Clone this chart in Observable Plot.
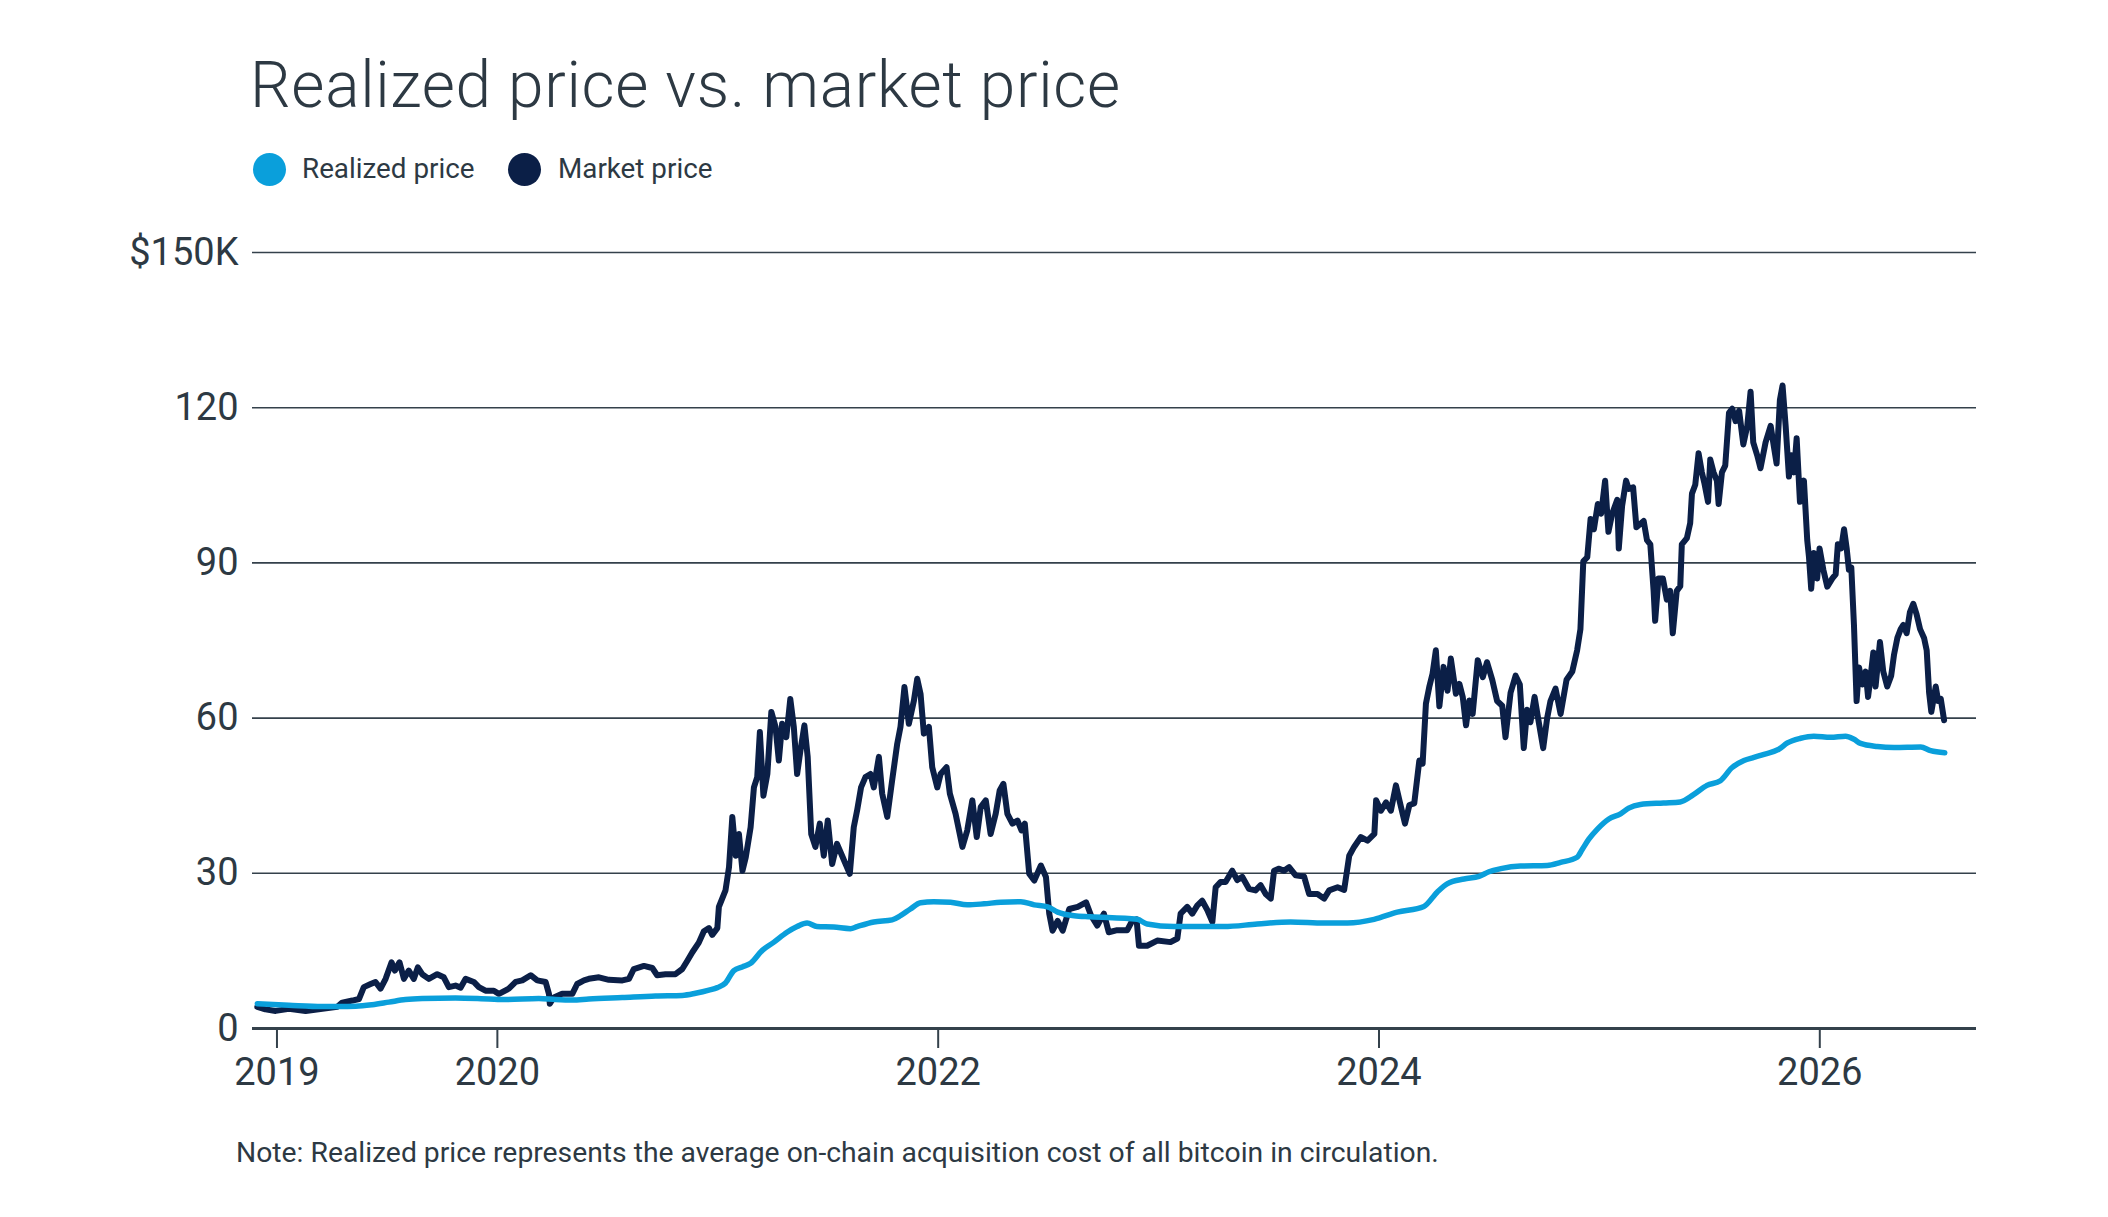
<!DOCTYPE html>
<html>
<head>
<meta charset="utf-8">
<script src="https://cdn.jsdelivr.net/npm/d3@7"></script>
<script src="https://cdn.jsdelivr.net/npm/@observablehq/plot@0.6"></script>
<style>
  html, body { margin: 0; padding: 0; background: #ffffff; }
  body { width: 2108px; height: 1217px; position: relative; overflow: hidden; font-family: "Roboto", "Open Sans", sans-serif; color: #2d3943; }
  .abs { position: absolute; white-space: nowrap; line-height: 1; }
  #title { left: 250px; top: 54px; font-size: 64px; font-weight: 300; letter-spacing: 0.7px; }
  .lg-dot { position: absolute; width: 33px; height: 33px; border-radius: 50%; }
  .lg-txt { font-size: 27.8px; font-weight: 400; }
  #note { left: 236px; top: 1139px; font-size: 28.3px; font-weight: 400; }
  #chart { position: absolute; left: 0; top: 200px; }
</style>
</head>
<body>
<div id="title" class="abs"></div>
<div id="legend"></div>
<div id="chart"></div>
<div id="note" class="abs"></div>
<script>
// ---- Text ----
const titleText = "Realized price vs. market price";
const noteText = "Note: Realized price represents the average on-chain acquisition cost of all bitcoin in circulation.";
const seriesNames = ["Realized price", "Market price"];
const seriesColors = ["#0a9fdb", "#0b1f47"];

// ---- Axis ticks ----
const xTicks = [2019, 2020, 2022, 2024, 2026];
const yTicks = [0, 30, 60, 90, 120, 150];
const yTickLabels = ["0", "30", "60", "90", "120", "$150K"];

// ---- Market price (decimal year, $K) ----
const marketYears = [
2018.911,2018.948,2018.994,2019.054,2019.130,2019.206,2019.274,2019.296,2019.342,2019.372,
2019.394,2019.425,2019.447,2019.470,2019.493,2019.520,2019.535,2019.556,2019.576,2019.598,
2019.621,2019.639,2019.659,2019.689,2019.727,2019.757,2019.780,2019.810,2019.833,2019.856,
2019.893,2019.916,2019.946,2019.984,2020.007,2020.052,2020.083,2020.113,2020.151,2020.181,
2020.219,2020.234,2020.238,2020.256,2020.294,2020.340,2020.362,2020.393,2020.415,2020.461,
2020.506,2020.567,2020.597,2020.619,2020.665,2020.703,2020.725,2020.763,2020.808,2020.839,
2020.862,2020.884,2020.914,2020.937,2020.960,2020.975,2020.998,2021.005,2021.035,2021.051,
2021.066,2021.082,2021.096,2021.112,2021.127,2021.149,2021.164,2021.179,2021.191,2021.207,
2021.225,2021.243,2021.262,2021.277,2021.292,2021.311,2021.329,2021.345,2021.360,2021.375,
2021.393,2021.408,2021.424,2021.443,2021.463,2021.481,2021.499,2021.519,2021.541,2021.564,
2021.599,2021.617,2021.632,2021.650,2021.670,2021.693,2021.708,2021.731,2021.746,2021.769,
2021.791,2021.814,2021.829,2021.847,2021.867,2021.890,2021.905,2021.920,2021.935,2021.958,
2021.973,2021.996,2022.011,2022.038,2022.053,2022.079,2022.110,2022.132,2022.155,2022.175,
2022.193,2022.216,2022.238,2022.261,2022.279,2022.296,2022.314,2022.337,2022.360,2022.378,
2022.393,2022.413,2022.436,2022.466,2022.489,2022.504,2022.519,2022.542,2022.565,2022.595,
2022.633,2022.671,2022.694,2022.722,2022.752,2022.774,2022.812,2022.858,2022.880,2022.900,
2022.911,2022.948,2022.994,2023.054,2023.085,2023.100,2023.130,2023.153,2023.176,2023.198,
2023.221,2023.244,2023.259,2023.281,2023.304,2023.334,2023.357,2023.380,2023.410,2023.440,
2023.463,2023.486,2023.509,2023.524,2023.547,2023.569,2023.592,2023.622,2023.660,2023.683,
2023.721,2023.751,2023.774,2023.812,2023.842,2023.865,2023.887,2023.918,2023.948,2023.979,
2023.987,2024.009,2024.032,2024.054,2024.077,2024.100,2024.118,2024.138,2024.160,2024.183,
2024.198,2024.213,2024.228,2024.243,2024.258,2024.274,2024.293,2024.311,2024.326,2024.349,
2024.365,2024.380,2024.395,2024.410,2024.425,2024.448,2024.471,2024.490,2024.514,2024.536,
2024.559,2024.574,2024.597,2024.620,2024.639,2024.657,2024.672,2024.687,2024.706,2024.725,
2024.745,2024.763,2024.778,2024.801,2024.824,2024.851,2024.877,2024.899,2024.914,2024.927,
2024.945,2024.960,2024.975,2024.993,2025.008,2025.026,2025.041,2025.058,2025.081,2025.088,
2025.103,2025.121,2025.133,2025.153,2025.168,2025.201,2025.216,2025.231,2025.246,2025.253,
2025.268,2025.288,2025.306,2025.321,2025.333,2025.351,2025.367,2025.374,2025.397,2025.412,
2025.420,2025.435,2025.450,2025.465,2025.476,2025.493,2025.503,2025.518,2025.533,2025.541,
2025.556,2025.571,2025.588,2025.603,2025.618,2025.634,2025.653,2025.671,2025.686,2025.698,
2025.716,2025.731,2025.754,2025.777,2025.792,2025.804,2025.819,2025.831,2025.845,2025.860,
2025.872,2025.883,2025.895,2025.910,2025.928,2025.943,2025.951,2025.961,2025.973,2025.988,
2025.999,2026.016,2026.034,2026.057,2026.072,2026.082,2026.097,2026.110,2026.122,2026.132,
2026.143,2026.155,2026.167,2026.178,2026.193,2026.208,2026.219,2026.231,2026.243,2026.253,
2026.273,2026.288,2026.306,2026.324,2026.337,2026.352,2026.367,2026.379,2026.394,2026.409,
2026.424,2026.439,2026.455,2026.473,2026.485,2026.496,2026.506,2026.526,2026.537,2026.549,
2026.564
];
const marketValues = [
4.2,3.7,3.4,3.8,3.4,3.8,4.2,5.0,5.4,5.7,
8.0,8.6,9.0,7.7,9.6,12.8,11.2,12.8,9.6,11.2,
9.6,11.8,10.5,9.6,10.5,9.9,8.0,8.3,7.9,9.6,
9.0,8.0,7.3,7.3,6.7,7.7,9.0,9.3,10.3,9.3,
9.0,6.7,4.8,6.0,6.7,6.7,8.6,9.3,9.6,9.9,
9.4,9.3,9.6,11.5,12.1,11.7,10.3,10.5,10.5,11.5,
13.1,14.7,16.6,18.8,19.4,18.1,19.4,23.5,26.7,31.2,
40.9,33.4,37.6,30.5,33.1,38.9,46.6,48.6,57.3,45.0,
49.2,61.2,58.3,51.8,58.9,56.3,63.7,58.3,49.2,53.7,
58.6,52.5,37.6,35.1,39.6,33.4,40.2,31.8,35.7,33.4,
29.9,38.9,42.1,46.6,48.6,49.2,46.6,52.5,45.4,40.9,
47.9,55.0,58.3,66.0,58.9,63.4,67.6,64.7,57.0,58.3,
50.5,46.6,49.2,50.5,45.4,41.5,35.1,38.3,44.1,37.0,
42.8,44.1,37.6,41.5,46.0,47.3,41.5,39.6,40.2,38.3,
39.6,29.9,28.6,31.5,29.3,22.2,18.9,20.8,18.9,23.1,
23.5,24.4,21.8,19.9,22.2,18.6,19.0,19.0,20.8,21.1,
16.0,16.0,17.0,16.7,17.4,22.2,23.5,22.2,23.8,24.7,
22.9,20.6,27.3,28.3,28.3,30.5,28.7,29.3,27.0,26.7,
27.7,26.0,25.1,30.5,30.9,30.5,31.2,29.6,29.4,26.0,
26.0,25.1,26.7,27.3,26.8,33.4,35.1,37.0,36.3,37.6,
44.1,42.1,43.7,42.1,47.0,42.8,39.6,43.2,43.5,51.8,
51.2,62.8,66.0,68.6,73.1,62.3,69.9,65.3,71.5,64.7,
66.6,64.1,58.6,63.4,60.8,71.2,67.9,70.8,67.4,63.3,
62.4,56.3,64.9,68.2,66.5,54.2,61.6,59.2,64.1,59.2,
54.2,60.0,63.3,65.7,60.8,67.4,69.0,73.1,77.2,90.3,
91.1,98.5,96.5,101.4,99.5,105.9,96.0,99.5,102.2,92.8,
101.0,105.9,104.3,104.6,96.9,98.1,94.4,93.6,84.6,78.8,
87.0,87.0,82.9,84.6,76.4,84.6,85.5,93.6,94.8,97.7,
103.4,105.1,111.2,107.5,105.5,101.8,110.0,107.5,105.9,101.4,
107.5,108.8,119.0,119.8,117.4,119.4,112.9,116.5,123.1,113.3,
110.8,108.3,113.3,116.5,112.4,109.2,121.5,124.3,116.5,106.7,
110.8,107.5,114.1,101.8,105.9,94.4,91.1,85.0,91.9,87.0,
92.8,88.7,85.4,87.0,87.8,93.6,92.8,96.5,92.8,88.7,
89.1,78.0,63.3,69.8,66.5,69.0,64.1,68.2,72.7,66.1,
74.7,69.0,66.1,68.2,72.3,75.5,77.2,78.0,76.4,80.5,
82.1,80.1,77.2,75.5,73.1,64.9,61.2,66.1,63.3,63.7,
59.6
];

// ---- Realized price (decimal year, $K) ----
const realizedYears = [
2018.911,2019.054,2019.206,2019.281,2019.357,2019.432,2019.508,2019.583,2019.659,2019.810,
2019.961,2020.037,2020.188,2020.264,2020.340,2020.415,2020.567,2020.718,2020.839,2020.899,
2020.960,2020.998,2021.035,2021.073,2021.111,2021.149,2021.202,2021.255,2021.314,2021.360,
2021.405,2021.450,2021.526,2021.602,2021.632,2021.708,2021.791,2021.829,2021.874,2021.920,
2021.980,2022.056,2022.132,2022.208,2022.284,2022.375,2022.436,2022.496,2022.542,2022.617,
2022.691,2022.903,2022.948,2023.069,2023.221,2023.296,2023.448,2023.599,2023.751,2023.857,
2023.978,2024.083,2024.204,2024.265,2024.311,2024.386,2024.454,2024.499,2024.553,2024.642,
2024.763,2024.824,2024.899,2024.922,2024.952,2024.990,2025.043,2025.096,2025.133,2025.186,
2025.291,2025.367,2025.427,2025.488,2025.549,2025.601,2025.656,2025.701,2025.747,2025.815,
2025.853,2025.913,2025.973,2026.049,2026.117,2026.155,2026.185,2026.261,2026.337,2026.458,
2026.503,2026.567
];
const realizedValues = [
4.8,4.5,4.25,4.25,4.3,4.6,5.1,5.6,5.8,5.9,
5.7,5.6,5.8,5.6,5.5,5.7,6.0,6.3,6.4,6.8,
7.4,7.9,8.8,11.2,11.9,12.6,15.1,16.7,18.6,19.7,
20.4,19.7,19.6,19.3,19.7,20.6,21.0,21.8,23.1,24.3,
24.5,24.4,23.9,24.1,24.4,24.5,23.9,23.5,22.5,21.8,
21.6,21.1,20.2,19.7,19.7,19.7,20.2,20.6,20.4,20.4,
21.1,22.5,23.6,26.4,28.0,28.9,29.4,30.3,30.9,31.4,
31.5,32.1,33.1,34.6,36.6,38.5,40.5,41.5,42.6,43.3,
43.6,43.8,45.2,47.0,47.9,50.4,51.8,52.4,53.0,54.0,
55.2,56.1,56.5,56.3,56.5,55.9,55.1,54.5,54.3,54.4,
53.7,53.3
];

// ---- Build tables for the library ----
const market = marketYears.map((t, i) => ({t, v: marketValues[i]}));
const realized = realizedYears.map((t, i) => ({t, v: realizedValues[i]}));

const textColor = "#2d3943";
const gridColor = "#34414b";

document.getElementById("title").textContent = titleText;
document.getElementById("note").textContent = noteText;

// Legend
const legend = document.getElementById("legend");
const legendPos = [{dot: 252.5, txt: 302}, {dot: 507.5, txt: 558}];
seriesNames.forEach((name, i) => {
  const dot = document.createElement("div");
  dot.className = "lg-dot";
  dot.style.left = legendPos[i].dot + "px";
  dot.style.top = "152.5px";
  dot.style.background = seriesColors[i];
  legend.appendChild(dot);
  const txt = document.createElement("div");
  txt.className = "abs lg-txt";
  txt.style.left = legendPos[i].txt + "px";
  txt.style.top = "155px";
  txt.textContent = name;
  legend.appendChild(txt);
});

const chart = Plot.plot({
  width: 2108,
  height: 900,
  marginTop: 52,
  marginBottom: 72,
  marginLeft: 252,
  marginRight: 132,
  style: {fontFamily: "Roboto, 'Open Sans', sans-serif", fontSize: "38px", color: textColor, background: "transparent", overflow: "visible"},
  x: {type: "linear", domain: [2018.889, 2026.711]},
  y: {domain: [0, 150]},
  marks: [
    Plot.ruleY(yTicks.filter(d => d > 0), {stroke: gridColor, strokeWidth: 1.6}),
    Plot.line(market, {x: "t", y: "v", stroke: seriesColors[1], strokeWidth: 6, strokeLinejoin: "round", strokeLinecap: "round"}),
    Plot.line(realized, {x: "t", y: "v", stroke: seriesColors[0], strokeWidth: 5.5, strokeLinejoin: "round", strokeLinecap: "round", curve: "monotone-x"}),
    Plot.ruleY([0], {stroke: gridColor, strokeWidth: 3.2}),
    Plot.axisX(xTicks, {tickSize: 20, tickPadding: 10, tickFormat: d => String(d), strokeWidth: 2, stroke: gridColor, fill: textColor, fontSize: 38, label: null}),
    Plot.axisY(yTicks, {tickSize: 0, tickPadding: 14, tickFormat: d => yTickLabels[yTicks.indexOf(d)], fill: textColor, fontSize: 38, label: null})
  ]
});
document.getElementById("chart").appendChild(chart);
</script>
</body>
</html>
